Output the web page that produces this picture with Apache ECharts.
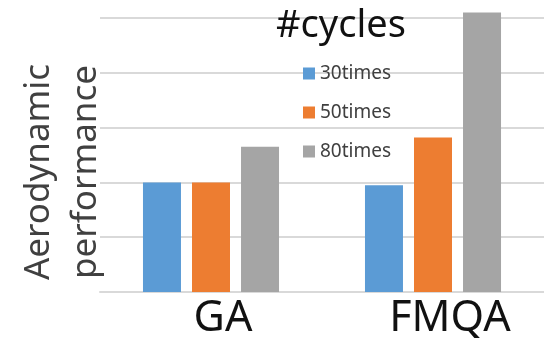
<!DOCTYPE html>
<html>
<head>
<meta charset="utf-8">
<script src="https://cdn.jsdelivr.net/npm/echarts@6/dist/echarts.min.js"></script>
<style>
  html, body { margin: 0; padding: 0; background: #fff; }
  #chart-container { width: 544px; height: 343px; }
</style>
</head>
<body>
<div id="chart-container"></div>
<script>
// data
const categories = ["GA", "FMQA"];
const seriesNames = ["30times", "50times", "80times"];
const times30 = [2.0, 1.95];
const times50 = [2.0, 2.82];
const times80 = [2.65, 5.1];
const colors = ["#5b9bd5", "#ed7d31", "#a5a5a5"];

let element = document.getElementById("chart-container");
let myChart = echarts.init(element, null, { renderer: "canvas" });

const font = "Noto Sans";
const values = [times30, times50, times80];

let option = {
  animation: false,
  textStyle: { fontFamily: font },
  title: {
    text: "#cycles",
    left: 271,
    top: 2,
    textStyle: { fontFamily: font, fontSize: 38, fontWeight: "normal", color: "#111" },
  },
  legend: {
    orient: "vertical",
    left: 298,
    top: 59,
    itemWidth: 12,
    itemHeight: 12,
    itemGap: 20,
    icon: "rect",
    data: seriesNames,
    textStyle: { fontFamily: font, fontSize: 19, color: "#404040" },
  },
  grid: { left: 100, right: 0, top: 7, bottom: 51 },
  xAxis: {
    type: "category",
    data: categories,
    axisLine: { lineStyle: { color: "#d9d9d9", width: 2 } },
    axisTick: { show: false },
    axisLabel: {
      margin: 5,
      formatter: (v) => (v === "GA" ? "{a|" + v + "}" : "{b|" + v + "}"),
      rich: {
        a: { fontFamily: font, fontSize: 43, color: "#111", padding: [0, 0, 0, 24] },
        b: { fontFamily: font, fontSize: 43, color: "#111", padding: [0, 0, 0, 34] },
      },
    },
  },
  yAxis: {
    type: "value",
    min: 0,
    max: 5.2,
    interval: 1,
    axisLabel: { show: false },
    axisLine: { show: false },
    axisTick: { show: false },
    splitLine: { showMaxLine: false, lineStyle: { color: "#d9d9d9", width: 2 } },
  },
  graphic: [
    {
      type: "text",
      x: 63,
      y: 172,
      rotation: Math.PI / 2,
      style: {
        text: "Aerodynamic\nperformance",
        font: "35px 'Noto Sans'",
        fill: "#404040",
        align: "center",
        verticalAlign: "middle",
        lineHeight: 47,
      },
    },
  ],
  series: seriesNames.map((name, i) => ({
    name: name,
    type: "bar",
    barWidth: 38,
    barGap: "29%",
    itemStyle: { color: colors[i] },
    data: values[i],
  })),
};
option && myChart.setOption(option);
</script>
</body>
</html>
